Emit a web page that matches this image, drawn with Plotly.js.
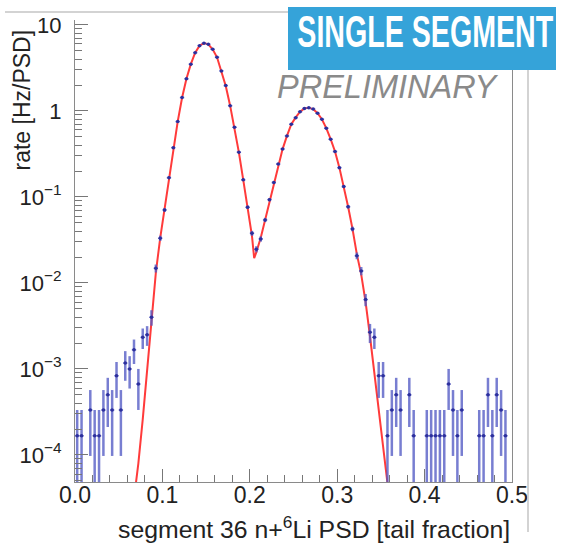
<!DOCTYPE html>
<html>
<head>
<meta charset="utf-8">
<script src="https://cdn.plot.ly/plotly-3.0.1.min.js"></script>
<style>
html,body{margin:0;padding:0;background:#ffffff;}
#chart{width:561px;height:546px;}
</style>
</head>
<body>
<div id="chart"></div>
<script>
// ---- Histogram: bin centres (non-empty bins only) and rate [Hz/PSD] ----
const psd = [
  0.0025,0.0075,0.0175,0.0225,0.0275,0.0325,0.0375,0.0425,0.0475,0.0525,
  0.0575,0.0625,0.0675,0.0725,0.0775,0.0825,0.0875,0.0925,0.0975,0.1025,
  0.1075,0.1125,0.1175,0.1225,0.1275,0.1325,0.1375,0.1425,0.1475,0.1525,
  0.1575,0.1625,0.1675,0.1725,0.1775,0.1825,0.1875,0.1925,0.1975,0.2025,
  0.2075,0.2125,0.2175,0.2225,0.2275,0.2325,0.2375,0.2425,0.2475,0.2525,
  0.2575,0.2625,0.2675,0.2725,0.2775,0.2825,0.2875,0.2925,0.2975,0.3025,
  0.3075,0.3125,0.3175,0.3225,0.3275,0.3325,0.3375,0.3425,0.3475,0.3525,
  0.3575,0.3625,0.3675,0.3725,0.3825,0.3875,0.4025,0.4075,0.4125,0.4175,
  0.4225,0.4275,0.4325,0.4375,0.4425,0.4625,0.4675,0.4725,0.4775,0.4825,
  0.4875,0.4925
];
const rate = [
  1.67e-4,1.67e-4,3.33e-4,1.67e-4,1.67e-4,3.33e-4,5.0e-4,3.33e-4,8.33e-4,3.33e-4,
  1.17e-3,1.0e-3,1.67e-3,6.67e-4,2.33e-3,2.5e-3,4.0e-3,0.0148,0.0331,0.0706,
  0.1675,0.374,0.751,1.43,2.36,3.49,4.76,5.74,6.12,5.97,
  5.21,4.21,2.92,1.97,1.15,0.646,0.331,0.158,0.0759,0.0378,
  0.0247,0.0325,0.054,0.093,0.147,0.241,0.361,0.512,0.700,0.835,
  0.98,1.07,1.09,1.05,0.94,0.80,0.63,0.469,0.337,0.219,
  0.132,0.077,0.0425,0.0207,0.0138,0.0064,2.67e-3,2.33e-3,8.33e-4,8.33e-4,
  1.67e-4,3.33e-4,5.0e-4,3.33e-4,5.0e-4,1.67e-4,1.67e-4,1.67e-4,1.67e-4,1.67e-4,
  1.67e-4,6.67e-4,3.33e-4,1.67e-4,3.33e-4,1.67e-4,1.67e-4,5.0e-4,1.67e-4,5.0e-4,
  3.33e-4,1.67e-4
];
const binHalfWidth = 0.0025;
const countsPerRate = 6000;   // one count = 1.67e-4 Hz/PSD (Poisson errors)

// ---- Fit curve (double Gaussian) ----
const fitX = [
  0.0698,0.0725,0.0775,0.0825,0.0875,0.0925,0.0975,0.1025,0.1075,0.1125,
  0.1175,0.1225,0.1275,0.1325,0.1375,0.1425,0.1475,0.1525,0.1575,0.1625,
  0.1675,0.1725,0.1775,0.1825,0.1875,0.1925,0.1975,0.2025,0.2050,0.2075,
  0.2125,0.2175,0.2225,0.2275,0.2325,0.2375,0.2425,0.2475,0.2525,0.2575,
  0.2625,0.2675,0.2725,0.2775,0.2825,0.2875,0.2925,0.2975,0.3025,0.3075,
  0.3125,0.3175,0.3225,0.3275,0.3325,0.3375,0.3425,0.3475,0.3525,0.3575
];
const fitY = [
  4.8e-5,8.0e-5,2.6e-4,1.0e-3,3.8e-3,0.0132,0.0335,0.074,0.166,0.37,
  0.75,1.42,2.36,3.5,4.75,5.72,6.15,5.95,5.2,4.2,
  2.95,1.95,1.15,0.645,0.33,0.158,0.075,0.035,0.0194,0.0228,
  0.0335,0.054,0.093,0.147,0.241,0.36,0.512,0.70,0.84,0.98,
  1.07,1.09,1.05,0.94,0.80,0.63,0.469,0.337,0.219,0.132,
  0.077,0.0425,0.0215,0.0125,0.0060,2.4e-3,9.2e-4,3.6e-4,1.3e-4,4.7e-5
];

// ---- Axis ticks ----
const xTickVals = [0, 0.1, 0.2, 0.3, 0.4, 0.5];
const xTickText = ['0.0', '0.1', '0.2', '0.3', '0.4', '0.5'];
const yTickVals = [10, 1, 0.1, 0.01, 0.001, 0.0001];
const yTickText = ['10', '1', '10<sup>\u22121</sup>', '10<sup>\u22122</sup>', '10<sup>\u22123</sup>', '10<sup>\u22124</sup>'];
const yRange = [4.85e-5, 11.4];

const rateErr = rate.map(r => Math.sqrt(r * countsPerRate) / countsPerRate);
const xErr = psd.map(() => binHalfWidth);

const FONT = '"Liberation Sans", Arial, Helvetica, sans-serif';
const errColor = 'rgba(82,90,196,0.78)';

const traces = [
  {
    type: 'scatter', mode: 'lines', x: fitX, y: fitY,
    line: {color: '#ff3b3b', width: 2}, hoverinfo: 'skip'
  },
  {
    type: 'scatter', mode: 'markers', x: psd, y: rate,
    marker: {color: '#2c2f9c', size: 3.5},
    error_y: {type: 'data', array: rateErr, visible: true, color: errColor, thickness: 2.5, width: 0},
    error_x: {type: 'data', array: xErr, visible: true, color: errColor, thickness: 1.5, width: 0}
  }
];

// paper helpers (plot area 75..512 x 20..482 px)
const L = 75, R = 512, T = 20, B = 482;
const px = v => (v - L) / (R - L);
const py = v => (B - v) / (B - T);

const layout = {
  width: 561, height: 546,
  margin: {l: 75, r: 49, t: 20, b: 64, pad: 0},
  paper_bgcolor: '#ffffff', plot_bgcolor: '#ffffff',
  showlegend: false,
  font: {family: FONT, color: '#222222', size: 22},
  xaxis: {
    range: [0, 0.5], tickmode: 'array', tickvals: xTickVals, ticktext: xTickText,
    ticks: 'inside', ticklen: 13, tickwidth: 1, tickcolor: '#777777',
    showline: true, linecolor: '#8a8a8a', linewidth: 1, mirror: false,
    showgrid: false, zeroline: false,
    minor: {ticks: 'inside', ticklen: 7, tickwidth: 1, tickcolor: '#777777', dtick: 0.02, tick0: 0, showgrid: false},
    tickfont: {family: FONT, size: 23, color: '#222222'},
    ticklabelstandoff: -8
  },
  yaxis: {
    type: 'log', range: [Math.log10(yRange[0]), Math.log10(yRange[1])],
    tickmode: 'array', tickvals: yTickVals, ticktext: yTickText,
    ticks: 'inside', ticklen: 13, tickwidth: 1, tickcolor: '#777777',
    showline: true, linecolor: '#8a8a8a', linewidth: 1, mirror: true,
    showgrid: false, zeroline: false,
    minor: {ticks: 'inside', ticklen: 7, tickwidth: 1, tickcolor: '#777777', dtick: 'D1', showgrid: false},
    tickfont: {family: FONT, size: 22, color: '#222222'},
    ticklabelstandoff: 8
  },
  shapes: [
    {type: 'line', xref: 'paper', yref: 'paper', x0: px(5), x1: 1, y0: py(12), y1: py(12),
     line: {color: '#c4c4c4', width: 1.5}},
    {type: 'line', xref: 'paper', yref: 'paper', x0: px(528), x1: px(528), y0: py(532), y1: py(12),
     line: {color: '#c4c4c4', width: 1.5}},
    {type: 'rect', xref: 'paper', yref: 'paper', layer: 'above',
     x0: px(288), x1: px(556), y0: py(70), y1: py(7),
     fillcolor: '#35a3d9', line: {width: 0}}
  ],
  annotations: [
    {xref: 'paper', yref: 'paper', x: px(425.5), y: py(31.5), xanchor: 'center', yanchor: 'middle',
     showarrow: false, text: '<b>SINGLE SEGMENT</b>',
     font: {family: FONT, size: 45, color: '#ffffff'}},
    {xref: 'paper', yref: 'paper', x: px(387), y: py(87), xanchor: 'center', yanchor: 'middle',
     showarrow: false, text: '<i>PRELIMINARY</i>',
     font: {family: FONT, size: 32.5, color: '#8a8a8a'}},
    {xref: 'paper', yref: 'paper', x: 1, y: py(527), xanchor: 'right', yanchor: 'middle',
     showarrow: false, text: 'segment 36 n+<sup>6</sup>Li PSD [tail fraction]',
     font: {family: FONT, size: 24.8, color: '#222222'}},
    {xref: 'paper', yref: 'paper', x: px(22), y: py(28), xanchor: 'center', yanchor: 'top',
     showarrow: false, textangle: -90, text: 'rate [Hz/PSD]',
     font: {family: FONT, size: 23, color: '#222222'}}
  ]
};

// condense the banner text horizontally (the original uses a condensed typeface)
const bannerWidth = 256;
function condenseBanner(gd) {
  gd.querySelectorAll('text.annotation-text').forEach(t => {
    if (t.textContent.trim() === 'SINGLE SEGMENT') {
      t.removeAttribute('transform');
      const bb = t.getBBox();
      const cx = bb.x + bb.width / 2, cy = bb.y + bb.height / 2;
      const sx = bannerWidth / bb.width;
      t.setAttribute('transform',
        'translate(' + cx + ',' + cy + ') scale(' + sx + ',1) translate(' + (-cx) + ',' + (-cy) + ')');
    }
  });
}

Plotly.newPlot('chart', traces, layout, {staticPlot: true, displayModeBar: false})
  .then(gd => condenseBanner(gd));
</script>
</body>
</html>
